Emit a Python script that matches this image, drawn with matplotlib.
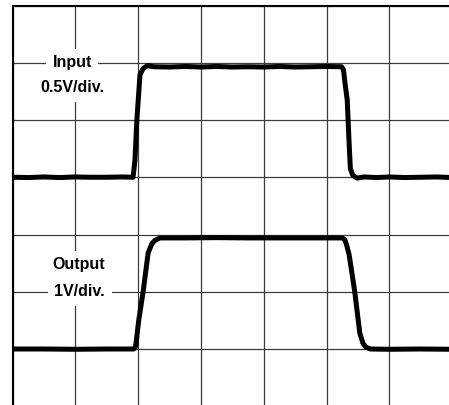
import matplotlib
matplotlib.use("Agg")
import matplotlib.pyplot as plt

# scope screen, values in divisions (x: time div, y: vertical div from bottom)
in_t = [0.00, 0.25, 0.50, 0.75, 1.00, 1.25, 1.50, 1.75, 1.92, 1.95, 1.98, 2.03,
        2.08, 2.15, 2.25, 2.50, 2.75, 3.00, 3.25, 3.50, 3.75, 4.00, 4.25, 4.50,
        4.75, 5.00, 5.24, 5.27, 5.30, 5.33, 5.36, 5.38, 5.42, 5.49, 5.60, 5.80,
        6.00, 6.25, 6.50, 6.75, 7.00]
in_v = [5.00, 4.995, 5.005, 4.995, 5.005, 5.00, 5.00, 5.005, 5.00, 5.30, 6.00, 6.79,
        6.90, 6.95, 6.93, 6.925, 6.935, 6.925, 6.935, 6.925, 6.93, 6.925, 6.935, 6.925,
        6.93, 6.935, 6.93, 6.88, 6.60, 6.35, 5.60, 5.15, 5.03, 4.985, 5.005, 4.995,
        5.005, 4.995, 5.00, 5.005, 4.995]

out_t = [0.00, 0.50, 1.00, 1.50, 1.93, 1.96, 2.01, 2.08, 2.16, 2.22, 2.27, 2.35,
         2.75, 3.25, 3.75, 4.25, 4.75, 5.25, 5.29, 5.32, 5.36, 5.45, 5.53, 5.58,
         5.63, 5.70, 6.00, 6.50, 7.00]
out_v = [2.00, 2.00, 1.995, 2.00, 2.00, 2.04, 2.50, 3.00, 3.68, 3.84, 3.90, 3.94,
         3.94, 3.945, 3.94, 3.94, 3.94, 3.94, 3.91, 3.82, 3.65, 3.00, 2.28, 2.10,
         2.03, 2.00, 1.995, 2.00, 1.995]

labels = ["Input", "0.5V/div.", "Output", "1V/div."]
label_x = [0.95, 0.955, 1.05, 1.07]
label_y = [7.00, 6.56, 3.47, 3.01]
label_pad = [4.5, 4.5, 4.5, 5.0]

fig = plt.figure(figsize=(4.49, 4.05), dpi=100)
# 10 x 8 division screen, only part of it is in the picture
left = 12.5 / 449
top = 1 - 5.5 / 405
w = 10 * 62.8 / 449
h = 8 * 57.25 / 405
ax = fig.add_axes([left, top - h, w, h])
ax.set_xlim(0, 10)
ax.set_ylim(0, 8)
ax.set_xticks(range(11))
ax.set_yticks(range(9))
ax.tick_params(length=0, labelbottom=False, labelleft=False)
ax.grid(True, color="#3c3c3c", lw=0.9)
for s in ax.spines.values():
    s.set_linewidth(1.5)
    s.set_color("black")

ax.plot(in_t, in_v, color="black", lw=3.6, solid_joinstyle="round", zorder=3)
ax.plot(out_t, out_v, color="black", lw=3.6, solid_joinstyle="round", zorder=3)

for txt, x, y, p in zip(labels, label_x, label_y, label_pad):
    ax.text(x, y, txt, ha="center", va="center", fontsize=11.5,
            fontweight="bold", family="Liberation Sans", zorder=4,
            bbox=dict(facecolor="white", edgecolor="none", pad=p))

fig.savefig("out.png", dpi=100)
